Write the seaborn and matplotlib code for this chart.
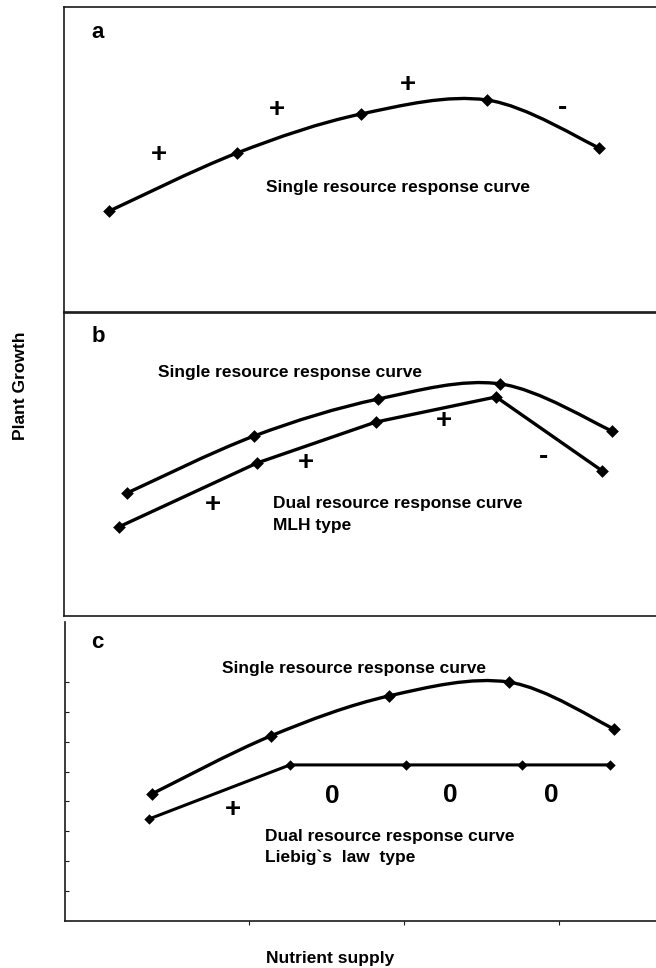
import numpy as np
import matplotlib
matplotlib.use("Agg")
import matplotlib.pyplot as plt
from matplotlib.path import Path
from matplotlib.patches import PathPatch
import seaborn as sns

sns.set_style("white")
plt.rcParams['font.family'] = ['Liberation Sans', 'DejaVu Sans']
plt.rcParams['text.color'] = 'black'

# ---- data (arbitrary units) ----
a_x = [7.6, 29.0, 49.8, 71.0, 89.8]
a_y = [33.1, 52.1, 64.9, 69.5, 53.8]

b_single_x = [10.6, 31.9, 52.7, 73.2, 91.9]
b_single_y = [40.6, 59.4, 71.6, 76.6, 61.1]
b_dual_x = [9.2, 32.4, 52.3, 72.5, 90.3]
b_dual_y = [29.4, 50.5, 64.0, 72.3, 47.9]

c_single_x = [14.6, 34.6, 54.5, 74.6, 92.3]
c_single_y = [42.5, 61.9, 75.3, 79.9, 64.2]
c_dual_x = [14.1, 37.8, 57.3, 76.8, 91.6]
c_dual_y = [34.1, 52.2, 52.2, 52.2, 52.2]

a_signs = ['+', '+', '+', '-']
a_sign_x = [15.9, 35.7, 57.7, 83.7]
a_sign_y = [51.5, 66.2, 74.4, 66.9]

b_signs = ['+', '+', '+', '-']
b_sign_x = [25.0, 40.6, 63.8, 80.4]
b_sign_y = [36.6, 50.5, 64.4, 52.5]

c_signs = ['+', '0', '0', '0']
c_sign_x = [28.2, 45.0, 64.7, 81.8]
c_sign_y = [37.1, 41.8, 42.1, 42.1]

panel_letters = ['a', 'b', 'c']
single_label = "Single resource response curve"
dual_b_label = ["Dual resource response curve", "MLH type"]
dual_c_label = ["Dual resource response curve", "Liebig`s  law  type"]
x_label = "Nutrient supply"
y_label = "Plant Growth"

W, H = 656, 968
fig = plt.figure(figsize=(W / 100, H / 100), dpi=100)


def add_ax(left, top, bottom, right=660):
    return fig.add_axes([left / W, 1 - bottom / H, (right - left) / W, (bottom - top) / H])


def smooth_path(x, y):
    pts = np.column_stack([x, y]).astype(float)
    n = len(pts)
    verts = [pts[0]]
    codes = [Path.MOVETO]
    for i in range(n - 1):
        p0 = pts[i - 1] if i > 0 else pts[i]
        p1 = pts[i]
        p2 = pts[i + 1]
        p3 = pts[i + 2] if i + 2 < n else pts[i + 1]
        c1 = p1 + (p2 - p0) / 6.0
        c2 = p2 - (p3 - p1) / 6.0
        verts += [c1, c2, p2]
        codes += [Path.CURVE4] * 3
    return Path(verts, codes)


def smooth_series(ax, x, y, lw=2.4, s=42):
    ax.add_patch(PathPatch(smooth_path(x, y), facecolor='none', edgecolor='black',
                           lw=lw, capstyle='round', joinstyle='round', zorder=2))
    sns.scatterplot(x=x, y=y, marker='D', s=s, color='black', linewidth=0, ax=ax, zorder=3)


def straight_series(ax, x, y, lw=2.4, s=42):
    sns.lineplot(x=x, y=y, sort=False, color='black', lw=lw, ax=ax, zorder=2)
    sns.scatterplot(x=x, y=y, marker='D', s=s, color='black', linewidth=0, ax=ax, zorder=3)


def style_ax(ax, top=True):
    ax.set_xlim(0, 100)
    ax.set_ylim(0, 100)
    ax.set_xticks([])
    ax.set_yticks([])
    ax.set_xlabel("")
    ax.set_ylabel("")
    ax.set_facecolor('white')
    for side in ['left', 'bottom', 'top']:
        ax.spines[side].set_color('#1a1a1a')
        ax.spines[side].set_linewidth(1.2)
    ax.spines['right'].set_visible(False)
    ax.spines['top'].set_visible(top)


def signs(ax, labels, xs, ys):
    for lab, x, y in zip(labels, xs, ys):
        fs = 19 if lab == '0' else 20
        ax.text(x, y, lab, ha='center', va='center', fontsize=fs, fontweight='bold',
                color='black')


TXT = 12.5

# ---- panel a ----
ax_a = add_ax(64, 7, 312)
style_ax(ax_a)
smooth_series(ax_a, a_x, a_y)
signs(ax_a, a_signs, a_sign_x, a_sign_y)
ax_a.text(5.7, 91.8, panel_letters[0], ha='center', va='center', fontsize=16, fontweight='bold')
ax_a.text(56.0, 40.7, single_label, ha='center', va='center', fontsize=TXT, fontweight='bold')

# ---- panel b ----
ax_b = add_ax(64, 313, 616)
style_ax(ax_b)
smooth_series(ax_b, b_single_x, b_single_y)
straight_series(ax_b, b_dual_x, b_dual_y)
signs(ax_b, b_signs, b_sign_x, b_sign_y)
ax_b.text(5.7, 92.1, panel_letters[1], ha='center', va='center', fontsize=16, fontweight='bold')
ax_b.text(15.8, 80.2, single_label, ha='left', va='center', fontsize=TXT, fontweight='bold')
ax_b.text(35.1, 37.0, dual_b_label[0], ha='left', va='center', fontsize=TXT, fontweight='bold')
ax_b.text(35.1, 30.0, dual_b_label[1], ha='left', va='center', fontsize=TXT, fontweight='bold')

# ---- panel c ----
ax_c = add_ax(65, 622, 921)
style_ax(ax_c, top=False)
smooth_series(ax_c, c_single_x, c_single_y)
straight_series(ax_c, c_dual_x, c_dual_y, lw=2.2, s=28)
signs(ax_c, c_signs, c_sign_x, c_sign_y)
ax_c.set_yticks(np.arange(10, 90, 10))
ax_c.set_yticklabels([])
ax_c.set_xticks([31, 57, 83])
ax_c.set_xticklabels([])
ax_c.tick_params(axis='y', direction='in', length=3, width=0.8, left=True, colors='#1a1a1a')
ax_c.tick_params(axis='x', direction='out', length=3, width=0.8, bottom=True, colors='#1a1a1a')
ax_c.text(5.5, 93.0, panel_letters[2], ha='center', va='center', fontsize=16, fontweight='bold')
ax_c.text(26.4, 84.6, single_label, ha='left', va='center', fontsize=TXT, fontweight='bold')
ax_c.text(33.6, 28.4, dual_c_label[0], ha='left', va='center', fontsize=TXT, fontweight='bold')
ax_c.text(33.6, 21.4, dual_c_label[1], ha='left', va='center', fontsize=TXT, fontweight='bold')

# ---- axis titles ----
fig.text(330 / W, 1 - 958 / H, x_label, ha='center', va='center', fontsize=TXT, fontweight='bold')
fig.text(21 / W, 1 - 386 / H, y_label, ha='center', va='center', rotation=90,
         fontsize=TXT, fontweight='bold')

fig.savefig("out.png", dpi=100, facecolor='white')
